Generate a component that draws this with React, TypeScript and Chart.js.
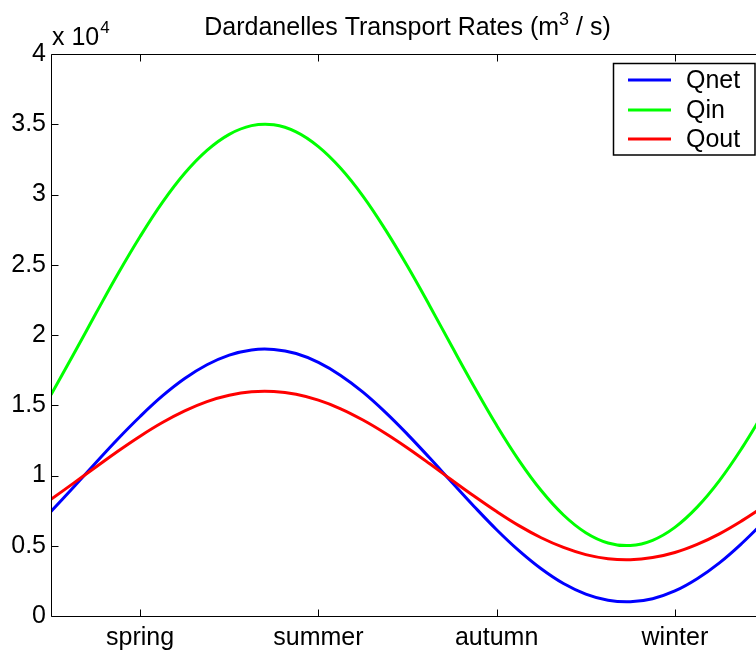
import React, { useEffect, useRef } from "react";
import { Chart, registerables } from "chart.js";

Chart.register(...registerables);

const seasons = ["spring", "summer", "autumn", "winter"];
const seasonTicks = [1, 2, 3, 4];
const yTicks = [0, 5000, 10000, 15000, 20000, 25000, 30000, 35000, 40000];

const xPos = [
  0.5, 0.625, 0.75, 0.875, 1.0, 1.125, 1.25, 1.375, 1.5, 1.625, 1.75, 1.875,
  2.0, 2.125, 2.25, 2.375, 2.5, 2.625, 2.75, 2.875, 3.0, 3.125, 3.25, 3.375,
  3.5, 3.625, 3.75, 3.875, 4.0, 4.125, 4.25, 4.375, 4.5,
];

const qNet = [
  7440, 9150, 10890, 12600, 14200, 15660, 16900, 17880, 18570, 18940, 18970,
  18680, 18050, 17120, 15930, 14510, 12930, 11240, 9500, 7780, 6140, 4650,
  3360, 2310, 1560, 1120, 1010, 1230, 1780, 2650, 3780, 5160, 6710,
];

const qIn = [
  15740, 18590, 21490, 24340, 27010, 29440, 31510, 33140, 34280, 34900, 34960,
  34460, 33410, 31870, 29890, 27520, 24890, 22070, 19160, 16300, 13570, 11080,
  8930, 7190, 5930, 5200, 5020, 5390, 6310, 7750, 9640, 11930, 14510,
];

const qOut = [
  8300, 9440, 10590, 11730, 12800, 13770, 14600, 15260, 15710, 15960, 15980,
  15780, 15360, 14750, 13950, 13010, 11960, 10830, 9660, 8520, 7430, 6430,
  5570, 4880, 4370, 4080, 4010, 4160, 4520, 5100, 5850, 6770, 7800,
];

const FONT = "'Liberation Sans', Arial, Helvetica, sans-serif";

const decorPlugin = {
  id: "decor",
  afterDraw(chart: any) {
    const { ctx, chartArea } = chart;
    const { left, right, top, bottom } = chartArea;
    const xs = chart.scales.x;
    const ys = chart.scales.y;
    ctx.save();
    // frame
    ctx.strokeStyle = "#000";
    ctx.lineWidth = 1;
    ctx.beginPath();
    ctx.rect(left + 0.5, top + 0.5, right - left, bottom - top);
    ctx.stroke();
    // inward ticks
    const tl = 7;
    ctx.beginPath();
    seasonTicks.forEach((v) => {
      const px = Math.round(xs.getPixelForValue(v)) + 0.5;
      ctx.moveTo(px, bottom + 0.5);
      ctx.lineTo(px, bottom + 0.5 - tl);
      ctx.moveTo(px, top + 0.5);
      ctx.lineTo(px, top + 0.5 + tl);
    });
    yTicks.forEach((v) => {
      const py = Math.round(ys.getPixelForValue(v)) + 0.5;
      ctx.moveTo(left + 0.5, py);
      ctx.lineTo(left + 0.5 + tl, py);
      ctx.moveTo(right + 0.5, py);
      ctx.lineTo(right + 0.5 - tl, py);
    });
    ctx.stroke();

    // title
    ctx.fillStyle = "#000";
    ctx.textBaseline = "alphabetic";
    const big = `25px ${FONT}`;
    const small = `18px ${FONT}`;
    const p1 = "Dardanelles Transport Rates (m";
    const p2 = "3";
    const p3 = " / s)";
    ctx.font = big;
    const w1 = ctx.measureText(p1).width;
    const w3 = ctx.measureText(p3).width;
    ctx.font = small;
    const w2 = ctx.measureText(p2).width;
    const total = w1 + w2 + w3;
    let tx = (left + right) / 2 - total / 2;
    const tBase = 35;
    ctx.textAlign = "left";
    ctx.font = big;
    ctx.fillText(p1, tx, tBase);
    tx += w1;
    ctx.font = small;
    ctx.fillText(p2, tx, tBase - 10);
    tx += w2;
    ctx.font = big;
    ctx.fillText(p3, tx, tBase);

    // exponent label
    ctx.font = big;
    const ex = "x 10";
    ctx.fillText(ex, left + 1, 45);
    const we = ctx.measureText(ex).width;
    ctx.font = `17px ${FONT}`;
    ctx.fillText("4", left + 1 + we + 1, 33);

    // legend
    const lx0 = 613.5;
    const ly0 = 63.5;
    const lw = 141.5;
    const lh = 91.5;
    ctx.fillStyle = "#fff";
    ctx.fillRect(lx0, ly0, lw, lh);
    ctx.strokeStyle = "#000";
    ctx.lineWidth = 1.5;
    ctx.strokeRect(lx0, ly0, lw, lh);
    const rows = [80, 110, 139];
    chart.data.datasets.forEach((ds: any, i: number) => {
      const y = rows[i];
      ctx.strokeStyle = ds.borderColor;
      ctx.lineWidth = 3;
      ctx.beginPath();
      ctx.moveTo(628, y);
      ctx.lineTo(671, y);
      ctx.stroke();
      ctx.fillStyle = "#000";
      ctx.font = big;
      ctx.textBaseline = "middle";
      ctx.fillText(ds.label, 686, y + 1);
    });
    ctx.restore();
  },
};

export default function App() {
  const ref = useRef<HTMLCanvasElement>(null);
  useEffect(() => {
    if (!ref.current) return;
    const mk = (vals: number[]) => xPos.map((x, i) => ({ x, y: vals[i] }));
    const chart = new Chart(ref.current, {
      type: "line",
      data: {
        datasets: [
          { label: "Qnet", data: mk(qNet), borderColor: "#0000ff", order: 3 },
          { label: "Qin", data: mk(qIn), borderColor: "#00ff00", order: 2 },
          { label: "Qout", data: mk(qOut), borderColor: "#ff0000", order: 1 },
        ].map((d) => ({
          ...d,
          borderWidth: 3,
          pointRadius: 0,
          fill: false,
          tension: 0.4,
        })),
      },
      options: {
        animation: false,
        responsive: false,
        devicePixelRatio: 1,
        layout: { padding: { left: 0, top: 54, right: 36, bottom: 0 } },
        plugins: {
          legend: { display: false },
          title: { display: false },
          tooltip: { enabled: false },
        },
        scales: {
          x: {
            type: "linear",
            min: 0.5,
            max: 4.5,
            grid: { display: false, drawTicks: false },
            border: { display: false },
            afterBuildTicks: (s: any) => {
              s.ticks = seasonTicks.map((v) => ({ value: v }));
            },
            afterFit: (s: any) => {
              s.height = 35;
            },
            ticks: {
              autoSkip: false,
              maxRotation: 0,
              padding: 7,
              color: "#000",
              font: { family: FONT, size: 25 },
              callback: (_v: any, i: number) => seasons[i],
            },
          },
          y: {
            min: 0,
            max: 40000,
            grid: { display: false, drawTicks: false },
            border: { display: false },
            afterBuildTicks: (s: any) => {
              s.ticks = yTicks.map((v) => ({ value: v }));
            },
            afterFit: (s: any) => {
              s.width = 51;
            },
            ticks: {
              padding: 5,
              color: "#000",
              font: { family: FONT, size: 25 },
              callback: (v: any) => String(Number(v) / 10000),
            },
          },
        },
      },
      plugins: [decorPlugin],
    });
    return () => chart.destroy();
  }, []);
  return (
    <div
      style={{
        position: "fixed",
        left: 0,
        top: 0,
        width: 756,
        height: 651,
        overflow: "hidden",
        background: "#fff",
      }}
    >
      <canvas ref={ref} width={800} height={651} style={{ width: 800, height: 651, display: "block" }} />
    </div>
  );
}
